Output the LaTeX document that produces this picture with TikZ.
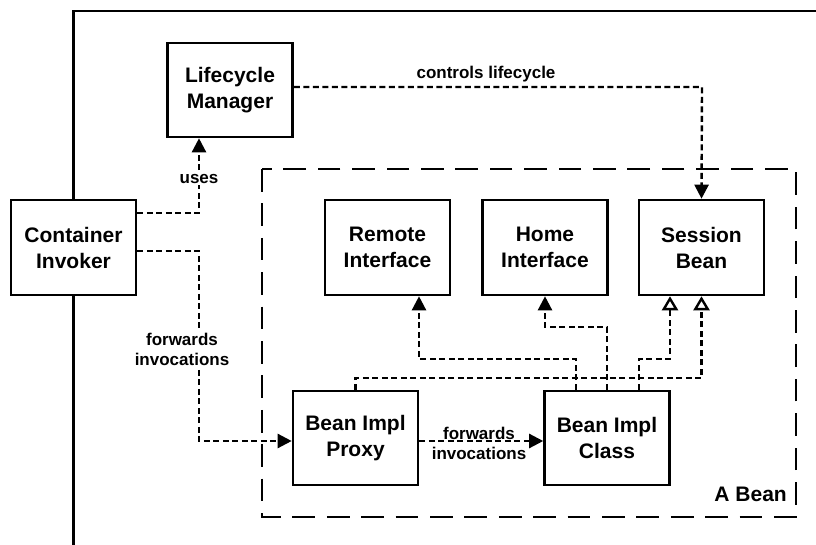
\documentclass[tikz,border=0pt]{standalone}
\usepackage{fontspec}
\setmainfont{Liberation Sans}
\usetikzlibrary{arrows.meta}
\begin{document}
\begin{tikzpicture}[x=1pt,y=-1pt,
  box/.style={draw, line width=2.6pt, inner sep=0pt, align=center,
    minimum width=125pt, minimum height=94pt,
    font=\fontsize{21}{26}\selectfont\bfseries},
  conn/.style={line width=2.4pt, dash pattern=on 6pt off 3.5pt},
  fillarrow/.style={-{Triangle[length=14pt,width=14pt]}},
  openarrow/.style={-{Triangle[open,fill=white,length=14pt,width=16pt]}},
  lbl/.style={align=center, inner sep=1pt, font=\fontsize{17}{20}\selectfont\bfseries},
  frame/.style={line width=2.6pt},
  beanframe/.style={line width=2.6pt, dash pattern=on 22.7pt off 11.7pt}
]
\useasboundingbox (0,0) rectangle (816,545);

% nodes
\node[box] (LM) at (230,90) {Lifecycle\\Manager};
\node[box, minimum height=95pt] (CI) at (73.5,247.5) {Container\\Invoker};
\node[box, minimum height=95pt] (RI) at (387.5,247.5) {Remote\\Interface};
\node[box, minimum height=95pt] (HI) at (545,247.5) {Home\\Interface};
\node[box, minimum height=95pt] (SB) at (701.5,247.5) {Session\\Bean};
\node[box] (BP) at (355.5,438) {Bean Impl\\Proxy};
\node[box] (BC) at (607,438) {Bean Impl\\Class};

% outer container frame
\draw[frame] (CI.north) -- (73.5,11) -- (816,11);
\draw[frame] (CI.south) -- (73.5,545);

% A Bean frame
\draw[beanframe] (262,169) rectangle (796,517);
\node[anchor=east, inner sep=0pt, font=\fontsize{21}{26}\selectfont\bfseries] (AB) at (787,494) {A Bean};

% connectors
\draw[conn, fillarrow] ([yshift=34.5pt]CI.east) -- (199,213) -- ([xshift=-31pt]LM.south)
  node[pos=0.45, fill=white, lbl] (L1) {uses};
\draw[conn, fillarrow] ([yshift=-3.5pt]CI.east) -- (199,251) -- (199,441) -- ([yshift=-3pt]BP.west);
\node[lbl, fill=white] (L2) at (182,349) {forwards\\invocations};
\draw[conn, fillarrow] ([yshift=3pt]LM.east) -- (702,87) -- (SB.north);
\node[lbl] (L3) at (486,74) {controls lifecycle};
\draw[conn, fillarrow] ([yshift=-3pt]BP.east) -- ([yshift=-3pt]BC.west);
\node[lbl] (L4) at (479,443) {forwards\\invocations};

\draw[conn, fillarrow] ([xshift=-31pt]BC.north) -- (576,359) -- (419,359) -- ([xshift=31.5pt]RI.south);
\draw[conn, fillarrow] (BC.north) -- (607,327) -- (545,327) -- (HI.south);
\draw[conn, openarrow] ([xshift=32pt]BC.north) -- (639,359) -- (670,359) -- ([xshift=-31.5pt]SB.south);
\draw[conn, openarrow] (BP.north) -- (355.5,378) -- (701.5,378) -- (SB.south);
\end{tikzpicture}
\end{document}
